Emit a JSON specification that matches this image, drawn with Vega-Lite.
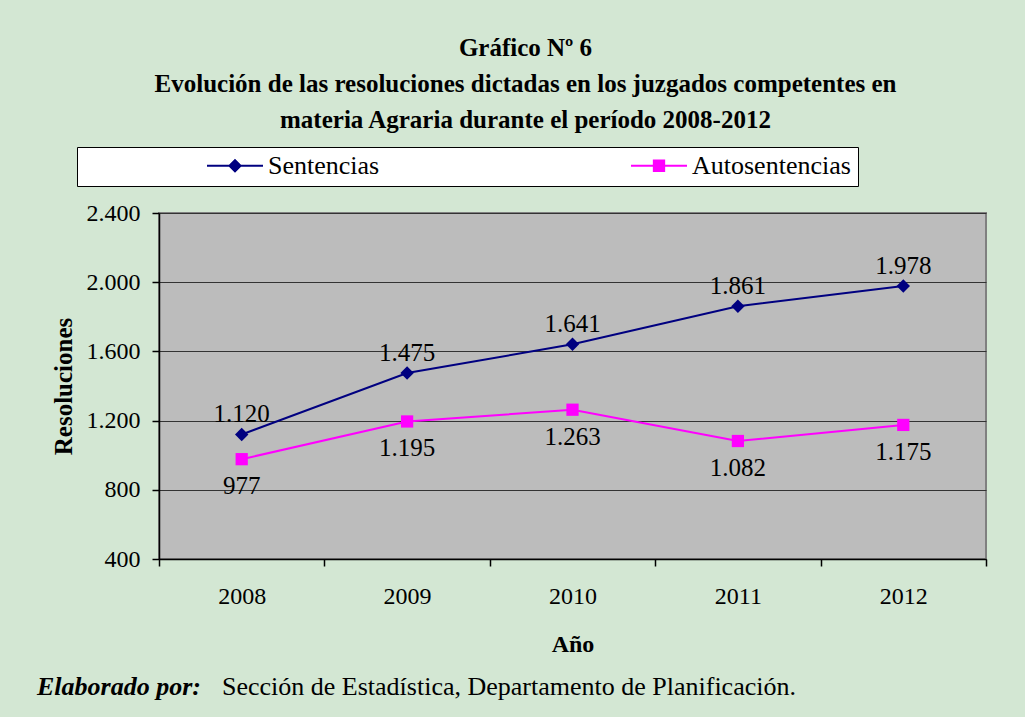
{
  "$schema": "https://vega.github.io/schema/vega-lite/v6.json",
  "autosize": "none",
  "width": 827,
  "height": 346,
  "padding": {"left": 159, "top": 213, "right": 39, "bottom": 158},
  "background": "#d3e7d3",
  "view": {"fill": "#bcbcbc", "stroke": "#808080", "strokeWidth": 2},
  "config": {
    "locale": {"number": {"decimal": ",", "thousands": ".", "grouping": [3], "currency": ["", ""]}},
    "font": "Liberation Serif",
    "view": {"fill": "#bcbcbc", "stroke": "#808080", "strokeWidth": 2}
  },
  "title": {
    "text": ["Gráfico Nº 6", "Evolución de las resoluciones dictadas en los juzgados competentes en", "materia Agraria durante el período 2008-2012"],
    "font": "Liberation Serif",
    "fontSize": 25,
    "fontWeight": "bold",
    "color": "black",
    "lineHeight": 36,
    "anchor": "middle",
    "frame": "group",
    "dx": -47,
    "offset": 14
  },
  "data": {"values": [
    {"anio": "2008", "serie": "Sentencias", "valor": 1120},
    {"anio": "2009", "serie": "Sentencias", "valor": 1475},
    {"anio": "2010", "serie": "Sentencias", "valor": 1641},
    {"anio": "2011", "serie": "Sentencias", "valor": 1861},
    {"anio": "2012", "serie": "Sentencias", "valor": 1978},
    {"anio": "2008", "serie": "Autosentencias", "valor": 977},
    {"anio": "2009", "serie": "Autosentencias", "valor": 1195},
    {"anio": "2010", "serie": "Autosentencias", "valor": 1263},
    {"anio": "2011", "serie": "Autosentencias", "valor": 1082},
    {"anio": "2012", "serie": "Autosentencias", "valor": 1175}
  ]},
  "encoding": {
    "x": {
      "field": "anio", "type": "ordinal", "title": "Año",
      "scale": {"type": "band", "paddingInner": 0, "paddingOuter": 0},
      "axis": {
        "tickBand": "extent", "labelAngle": 0,
        "labelFont": "Liberation Serif", "labelFontSize": 24, "labelColor": "black", "labelPadding": 18,
        "tickSize": 7, "tickColor": "black", "tickWidth": 1.5,
        "domainColor": "black", "domainWidth": 1.5, "grid": false,
        "titleFont": "Liberation Serif", "titleFontSize": 24, "titleFontWeight": "bold", "titleColor": "black", "titlePadding": 24
      }
    },
    "y": {
      "field": "valor", "type": "quantitative", "title": "Resoluciones",
      "scale": {"domain": [400, 2400], "nice": false, "zero": false},
      "axis": {
        "values": [400, 800, 1200, 1600, 2000, 2400], "format": ",d",
        "labelFont": "Liberation Serif", "labelFontSize": 24, "labelColor": "black", "labelPadding": 12,
        "tickSize": 7, "tickColor": "black", "tickWidth": 1.5,
        "domainColor": "black", "domainWidth": 1.5,
        "grid": true, "gridColor": "#333333", "gridWidth": 1,
        "titleFont": "Liberation Serif", "titleFontSize": 25, "titleFontWeight": "bold", "titleColor": "black", "titlePadding": 10
      }
    }
  },
  "layer": [
    {
      "transform": [{"filter": "datum.serie === 'Sentencias'"}],
      "mark": {"type": "line", "strokeWidth": 2, "color": "#000080"}
    },
    {
      "transform": [{"filter": "datum.serie === 'Autosentencias'"}],
      "mark": {"type": "line", "strokeWidth": 2, "color": "#ff00ff"}
    },
    {
      "transform": [{"filter": "datum.serie === 'Sentencias'"}],
      "mark": {"type": "point", "filled": true, "opacity": 1, "size": 180, "shape": "diamond", "color": "#000080"}
    },
    {
      "transform": [{"filter": "datum.serie === 'Autosentencias'"}],
      "mark": {"type": "point", "filled": true, "opacity": 1, "size": 150, "shape": "square", "color": "#ff00ff"}
    },
    {
      "mark": {"type": "point", "filled": true, "opacity": 0},
      "encoding": {
        "color": {
          "field": "serie", "type": "nominal",
          "scale": {"domain": ["Sentencias", "Autosentencias"], "range": ["#000080", "#ff00ff"]},
          "legend": {
            "orient": "none", "legendX": -82, "legendY": -66,
            "title": null, "direction": "horizontal", "columns": 2,
            "fillColor": "white", "strokeColor": "black",
            "padding": 7, "clipHeight": 23,
            "symbolSize": 3136, "symbolStrokeWidth": 0, "symbolOpacity": 1,
            "symbolOffset": 123, "labelOffset": 5, "columnPadding": 128,
            "labelFont": "Liberation Serif", "labelFontSize": 26, "labelColor": "black", "labelLimit": 0,
            "labelExpr": "datum.value === 'Autosentencias' ? datum.label + '\u2003\u2003\u2003\u2003\u2003' : datum.label"
          }
        },
        "shape": {
          "field": "serie", "type": "nominal",
          "scale": {"domain": ["Sentencias", "Autosentencias"], "range": ["M-1,-0.036L1,-0.036L1,0.036L-1,0.036ZM-0.25,0L0,-0.25L0.25,0L0,0.25Z", "M-1,-0.036L1,-0.036L1,0.036L-1,0.036ZM-0.22,-0.22L0.22,-0.22L0.22,0.22L-0.22,0.22Z"]},
          "legend": {
            "orient": "none", "legendX": -82, "legendY": -66,
            "title": null, "direction": "horizontal", "columns": 2,
            "fillColor": "white", "strokeColor": "black",
            "padding": 7, "clipHeight": 23,
            "symbolSize": 3136, "symbolStrokeWidth": 0, "symbolOpacity": 1,
            "symbolOffset": 123, "labelOffset": 5, "columnPadding": 128,
            "labelFont": "Liberation Serif", "labelFontSize": 26, "labelColor": "black", "labelLimit": 0,
            "labelExpr": "datum.value === 'Autosentencias' ? datum.label + '\u2003\u2003\u2003\u2003\u2003' : datum.label"
          }
        }
      }
    },
    {
      "transform": [{"filter": "datum.serie === 'Sentencias'"}],
      "mark": {"type": "text", "dy": -20, "fontSize": 25, "font": "Liberation Serif", "color": "black"},
      "encoding": {"text": {"field": "valor", "type": "quantitative", "format": ",d"}}
    },
    {
      "transform": [{"filter": "datum.serie === 'Autosentencias'"}],
      "mark": {"type": "text", "dy": 27, "fontSize": 25, "font": "Liberation Serif", "color": "black"},
      "encoding": {"text": {"field": "valor", "type": "quantitative", "format": ",d"}}
    },
    {
      "data": {"values": [{"fuente": "Sección de Estadística, Departamento de Planificación."}]},
      "mark": {"type": "point", "opacity": 0},
      "encoding": {
        "x": null, "y": null,
        "strokeDash": {
          "field": "fuente", "type": "nominal",
          "legend": {
            "orient": "none", "legendX": -122, "legendY": 461,
            "title": "Elaborado por:", "titleOrient": "left",
            "titleFont": "Liberation Serif", "titleFontSize": 26, "titleFontWeight": "bold", "titleFontStyle": "italic", "titleColor": "black", "titlePadding": -5,
            "labelFont": "Liberation Serif", "labelFontSize": 26, "labelColor": "black", "labelLimit": 0, "labelOffset": 0,
            "symbolOpacity": 0, "symbolSize": 0, "symbolStrokeWidth": 0, "padding": 0
          }
        }
      }
    }
  ]
}
